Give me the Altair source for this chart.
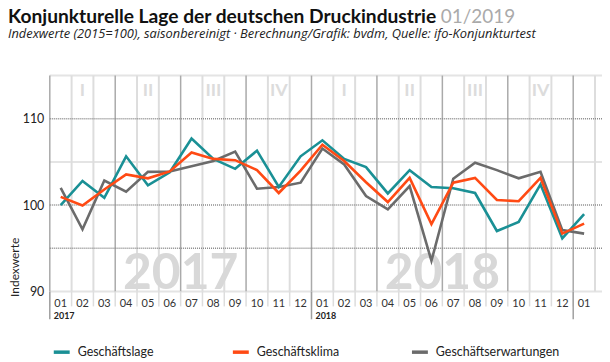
import altair as alt
import pandas as pd

FONT = "Lato"

months = ["2017-01", "2017-02", "2017-03", "2017-04", "2017-05", "2017-06",
          "2017-07", "2017-08", "2017-09", "2017-10", "2017-11", "2017-12",
          "2018-01", "2018-02", "2018-03", "2018-04", "2018-05", "2018-06",
          "2018-07", "2018-08", "2018-09", "2018-10", "2018-11", "2018-12",
          "2019-01"]

lage = [100.0, 102.8, 100.85, 105.65, 102.3, 103.8, 107.7, 105.35, 104.2, 106.3, 102.1, 105.65,
        107.5, 105.35, 104.4, 101.35, 104.05, 102.1, 101.95, 101.4, 97.0, 98.05, 102.4, 96.15,
        98.95]
klima = [100.95, 99.95, 101.8, 103.55, 103.1, 103.9, 106.1, 105.35, 105.2, 104.05, 101.4, 104.0,
         107.0, 105.1, 102.65, 100.35, 103.15, 97.8, 102.6, 103.15, 100.6, 100.45, 103.15, 96.7,
         97.85]
erw = [102.0, 97.2, 102.85, 101.55, 103.85, 103.9, 104.5, 105.1, 106.2, 101.9, 102.1, 102.6,
       106.55, 104.7, 101.05, 99.5, 102.2, 93.55, 103.05, 104.9, 104.05, 103.1, 103.85, 97.1,
       96.7]

series_names = ["Geschäftslage", "Geschäftsklima", "Geschäftserwartungen"]
series_colors = ["#1a9095", "#ff4a14", "#6b6b6b"]

title_text = "Konjunkturelle Lage der deutschen Druckindustrie"
date_text = "01/2019"
subtitle_text = "Indexwerte (2015=100), saisonbereinigt  ·  Berechnung/Grafik: bvdm, Quelle: ifo-Konjunkturtest"

dotted_levels = [95, 100, 110]
solid_levels = [90, 105, 115]
quarter_months = ["2017-01", "2017-04", "2017-07", "2017-10",
                  "2018-01", "2018-04", "2018-07", "2018-10", "2019-01"]
year_starts = ["2017-01", "2018-01", "2019-01"]
year_labels = ["2017", "2018"]
quarter_labels = ["I", "II", "III", "IV", "I", "II", "III", "IV"]
quarter_mid_months = ["2017-02", "2017-05", "2017-08", "2017-11",
                      "2018-02", "2018-05", "2018-08", "2018-11"]
watermark_months = ["2017-06", "2018-06"]

W, H = 555, 217

# ---- data tables ----
rows = []
for name, vals in [("Geschäftserwartungen", erw), ("Geschäftslage", lage), ("Geschäftsklima", klima)]:
    for m, v in zip(months, vals):
        rows.append({"m": m, "v": v, "s": name})
df_lines = pd.DataFrame(rows)

df_dot = pd.DataFrame({"v": dotted_levels})
df_solid = pd.DataFrame({"v": solid_levels})
df_month_b = pd.DataFrame({"m": [m for m in months if m not in quarter_months]})
df_quarter_b = pd.DataFrame({"m": quarter_months})
df_last = pd.DataFrame({"m": [months[-1]]})
df_all_b = pd.DataFrame({"m": months})
df_year_b = pd.DataFrame({"m": year_starts})
df_year_lab = pd.DataFrame({"m": year_starts[:2], "t": year_labels})
df_quarter_lab = pd.DataFrame({"m": quarter_mid_months, "t": quarter_labels, "v": [113.2] * 8})
df_wm = pd.DataFrame({"m": watermark_months, "t": year_labels, "v": [90, 90]})
df_one = pd.DataFrame({"k": [0]})

xs = alt.Scale(type="band", domain=months, paddingInner=0, paddingOuter=0.16, align=0)
ys = alt.Scale(domain=[90, 115], nice=False, zero=False)

xaxis = alt.Axis(title=None, domain=False, grid=False, ticks=False,
                 labelExpr="substring(datum.value, 5)", labelFont=FONT, labelFontSize=11,
                 labelColor="#333333", labelPadding=6, labelAngle=0)
yaxis = alt.Axis(values=[90, 100, 110], title="Indexwerte", grid=False, domain=False, ticks=False,
                 labelFont=FONT, labelFontSize=12.5, labelColor="#222222", labelPadding=6,
                 titleFont=FONT, titleFontSize=12, titleFontWeight="normal", titleColor="#222222",
                 titleAngle=270, titleX=-35, titleY=222, titleAlign="left", titleBaseline="middle")


def X(bp=0.5):
    return alt.X("m:N", scale=xs, axis=xaxis, bandPosition=bp)


def Y():
    return alt.Y("v:Q", scale=ys, axis=yaxis)


hdot = alt.Chart(df_dot).mark_rule(color="#8a8a8a", strokeWidth=1.5, strokeDash=[1, 1]).encode(
    y=Y(), x=alt.value(0), x2=alt.value("width"))
hsolid = alt.Chart(df_solid).mark_rule(color="#e4e4e4", strokeWidth=2).encode(
    y=Y(), x=alt.value(0), x2=alt.value("width"))

vmonth = alt.Chart(df_month_b).mark_rule(color="#dddddd", strokeWidth=2).encode(x=X(0))
vlast = alt.Chart(df_last).mark_rule(color="#dddddd", strokeWidth=2).encode(x=X(1))
vquarter = alt.Chart(df_quarter_b).mark_rule(color="#aaaaaa", strokeWidth=1.5).encode(x=X(0))

ticks_below = alt.Chart(df_all_b).mark_rule(color="#dddddd", strokeWidth=1.5).encode(
    x=X(0), y=alt.value(H), y2=alt.value(H + 15))
year_ticks = alt.Chart(df_year_b).mark_rule(color="#a0a0a0", strokeWidth=1.5).encode(
    x=X(0), y=alt.value(H), y2=alt.value(H + 28))
year_small = alt.Chart(df_year_lab).mark_text(
    font=FONT, fontSize=9, fontWeight="bold", color="#222222", align="left", baseline="middle", dx=4
).encode(x=X(0), y=alt.value(H + 25), text="t:N")

watermark = alt.Chart(df_wm).mark_text(
    font=FONT, fontSize=50, fontWeight="bold", color="#d8d8d8", align="center",
    baseline="alphabetic", dy=-2
).encode(x=X(1), y=Y(), text="t:N")

qlabels = alt.Chart(df_quarter_lab).mark_text(
    font=FONT, fontSize=18, fontWeight="bold", color="#dcdcdc", align="center", baseline="middle"
).encode(x=X(0.5), y=Y(), text="t:N")

lines = alt.Chart(df_lines).mark_line(strokeWidth=2.6).encode(
    x=X(0.5), y=Y(),
    color=alt.Color("s:N", scale=alt.Scale(domain=series_names, range=series_colors),
                    legend=alt.Legend(title=None, orient="none", legendX=2, legendY=H + 51,
                                      direction="horizontal", symbolType="stroke",
                                      symbolStrokeWidth=3.5, symbolSize=256,
                                      labelFont=FONT, labelFontSize=12.5, labelColor="#222222",
                                      columnPadding=24, gridAlign="all", labelOffset=6)),
    detail="s:N",
)

# header texts (outside the plot area, above it)
title_mark = alt.Chart(df_one).mark_text(
    font=FONT, fontSize=19.3, fontWeight="bold", color="#111111", align="left", baseline="alphabetic"
).encode(x=alt.value(-42), y=alt.value(-53), text=alt.value(title_text))
date_tag = alt.Chart(df_one).mark_text(
    font=FONT, fontSize=19, fontWeight="normal", color="#aaaaaa", align="left", baseline="alphabetic"
).encode(x=alt.value(393), y=alt.value(-53), text=alt.value(date_text))
subtitle_mark = alt.Chart(df_one).mark_text(
    font="Open Sans", fontSize=12.9, fontStyle="italic", color="#222222", align="left",
    baseline="alphabetic"
).encode(x=alt.value(-42), y=alt.value(-38), text=alt.value(subtitle_text))

chart = alt.layer(
    hsolid, vmonth, vlast, vquarter, hdot, ticks_below, year_ticks, year_small,
    watermark, qlabels, lines, title_mark, date_tag, subtitle_mark
).properties(
    width=W, height=H,
    autosize=alt.AutoSizeParams(type="none"),
    padding={"left": 42, "top": 67, "right": 0, "bottom": 72},
).configure_view(stroke=None)

chart.save("out.html", embed_options={"renderer": "svg", "actions": False})
